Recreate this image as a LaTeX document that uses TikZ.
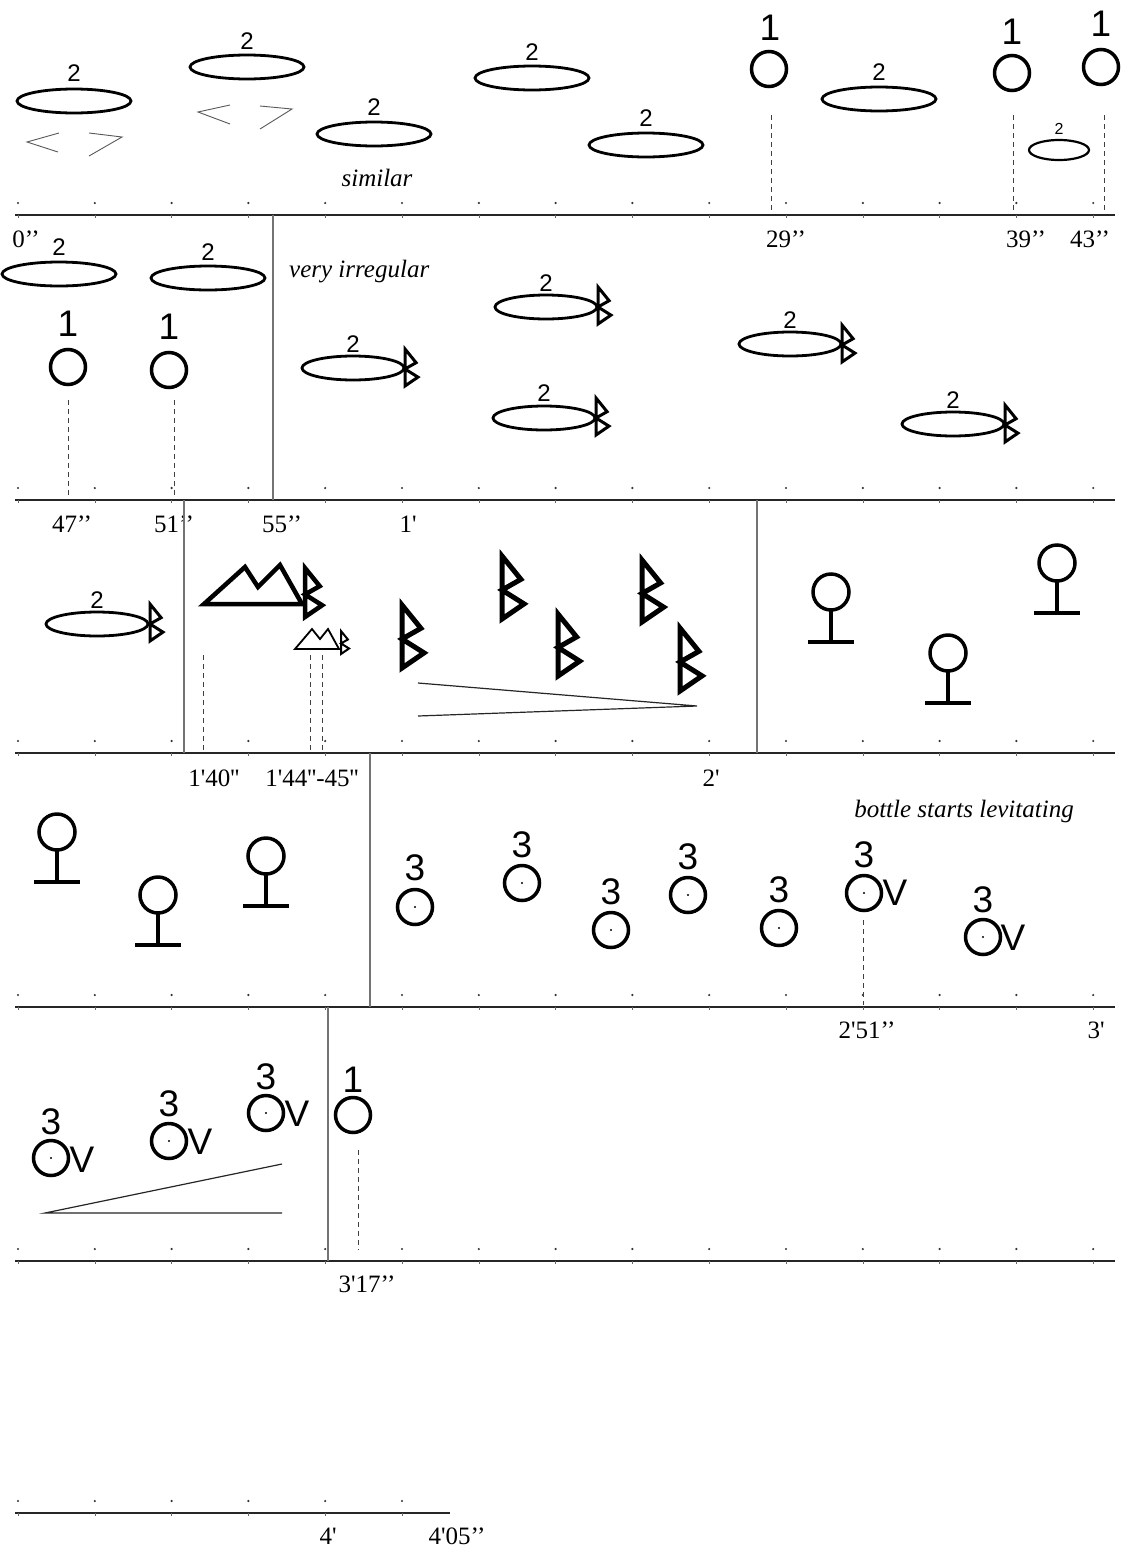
\documentclass[tikz,border=0pt]{standalone}
\usepackage{fontspec}
\newfontfamily\sansf{Liberation Sans}
\newfontfamily\serf{Liberation Serif}
\newcommand{\myrune}[4]{%
  \draw[line width=#4, line join=miter] (#1,#2) -- ({#1+0.30*#3},{#2+0.37*#3}) -- (#1,{#2+0.54*#3}) -- ({#1+0.35*#3},{#2+0.76*#3}) -- (#1,{#2+#3}) -- cycle;}
\newcommand{\mypedestal}[2]{%
  \draw[ring] (#1,#2) circle[radius=18pt];
  \draw[line width=4pt] (#1,{#2+18}) -- (#1,{#2+50});
  \draw[line width=4pt] ({#1-23},{#2+50}) -- ({#1+23},{#2+50});}
\newcommand{\mydotring}[2]{%
  \draw[ring] (#1,#2) circle[radius=17.5pt];
  \fill (#1,#2) circle[radius=1.2pt];}
\newcommand{\mydots}[2]{%
  \foreach \k in {0,...,#2} {\fill[black!80] ({18+76.8*\k},{#1-12}) circle[radius=1.2pt];
    \draw[black!60, line width=0.6pt] ({18+76.8*\k},{#1}) -- ({18+76.8*\k},{#1+2.5});}}
\begin{document}
\begin{tikzpicture}[x=1pt,y=-1pt,
  sysline/.style={line width=1.8pt, black!85},
  sep/.style={line width=1.3pt, black!55},
  dashv/.style={line width=1pt, black!75, dash pattern=on 5pt off 4pt},
  ell/.style={line width=2.8pt},
  ring/.style={line width=3.5pt},
  chev/.style={line width=0.9pt, black!65},
  wedge/.style={line width=1.2pt, black!85},
  num/.style={font=\sansf\fontsize{24}{28}\selectfont, inner sep=0pt},
  big/.style={font=\sansf\fontsize{37}{40}\selectfont, inner sep=0pt},
  smalltwo/.style={font=\sansf\fontsize{16}{18}\selectfont, inner sep=0pt},
  tlabel/.style={font=\serf\fontsize{25}{28}\selectfont, inner sep=0pt},
  ital/.style={font=\serf\itshape\fontsize{25}{28}\selectfont, inner sep=0pt},
]
\useasboundingbox (0,0) rectangle (1126,1553);
\fill[white] (0,0) rectangle (1126,1553);

% ---------- system lines ----------
\foreach \Y in {215,500,753,1007,1261} {\draw[sysline] (15,\Y) -- (1115,\Y); \mydots{\Y}{14}}
\draw[sysline] (15,1513) -- (450,1513);
\mydots{1513}{5}

% ---------- row 1 ----------
\draw[ell] (74,101) ellipse[x radius=57pt, y radius=12pt];
\node[num] (t1) at (74,73) {2};
\draw[chev] (59,133) -- (27,142) -- (58,152);
\draw[chev] (89,133) -- (122,137) -- (89,156);
\draw[ell] (247,67) ellipse[x radius=57pt, y radius=12pt];
\node[num] (t2) at (247,41) {2};
\draw[chev] (230,105) -- (198,112) -- (230,124);
\draw[chev] (260,106) -- (292,109) -- (260,129);
\draw[ell] (374,134) ellipse[x radius=57pt, y radius=12pt];
\node[num] (t3) at (374,107) {2};
\node[ital] (similar) at (377,178) {similar};
\draw[ell] (532,78) ellipse[x radius=57pt, y radius=12pt];
\node[num] (t4) at (532,52) {2};
\draw[ell] (646,145) ellipse[x radius=57pt, y radius=12pt];
\node[num] (t5) at (646,118) {2};
\draw[ring] (769,69) circle[radius=17.5pt];
\node[big] (o1) at (770,28) {1};
\draw[ell] (879,99) ellipse[x radius=57pt, y radius=12pt];
\node[num] (t6) at (879,72) {2};
\draw[ring] (1012,73) circle[radius=17.5pt];
\node[big] (o2) at (1012,32) {1};
\draw[ring] (1101,67) circle[radius=17.5pt];
\node[big] (o3) at (1101,24) {1};
\draw[line width=2.2pt] (1059,150) ellipse[x radius=30pt, y radius=10pt];
\node[smalltwo] (t7) at (1059,129) {2};
\coordinate (d1) at (771,115); \coordinate (d2) at (1013,115); \coordinate (d3) at (1104,115);
\draw[dashv] (d1) -- (771,213);
\draw[dashv] (d2) -- (1013,213);
\draw[dashv] (d3) -- (1104,213);
\node[tlabel] (l0) at (26,239) {0’’};
\node[tlabel] (l29) at (786,239) {29’’};
\node[tlabel] (l39) at (1026,239) {39’’};
\node[tlabel] (l43) at (1090,239) {43’’};

% ---------- row 2 ----------
\draw[sep] (273,215) -- (273,500);
\draw[ell] (59,274) ellipse[x radius=57pt, y radius=12pt];
\node[num] (t8) at (59,247) {2};
\draw[ell] (208,278) ellipse[x radius=57pt, y radius=12pt];
\node[num] (t9) at (208,252) {2};
\draw[ring] (68,367) circle[radius=17.5pt];
\node[big] (o4) at (68,324) {1};
\draw[ring] (169,370) circle[radius=17.5pt];
\node[big] (o5) at (169,327) {1};
\draw[dashv] (68,400) -- (68,498);
\draw[dashv] (174,400) -- (174,498);
\node[ital, anchor=west] (irreg) at (289,272) {very irregular};
% fish
\draw[ell] (353,368) ellipse[x radius=51pt, y radius=12pt];
\node[num] (t10) at (353,344) {2};
\myrune{405}{349}{37}{3pt}
\draw[ell] (546,307) ellipse[x radius=51pt, y radius=12pt];
\node[num] (t11) at (546,283) {2};
\myrune{598}{287}{37}{3pt}
\draw[ell] (544,418) ellipse[x radius=51pt, y radius=12pt];
\node[num] (t12) at (544,393) {2};
\myrune{596}{398}{37}{3pt}
\draw[ell] (790,344) ellipse[x radius=51pt, y radius=12pt];
\node[num] (t13) at (790,320) {2};
\myrune{842}{325}{37}{3pt}
\draw[ell] (953,424) ellipse[x radius=51pt, y radius=12pt];
\node[num] (t14) at (953,400) {2};
\myrune{1005}{405}{37}{3pt}
\node[tlabel] (l47) at (72,524) {47’’};
\node[tlabel] (l51) at (174,524) {51’’};
\node[tlabel] (l55) at (282,524) {55’’};
\node[tlabel] (l1m) at (408,524) {1'};

% ---------- row 3 ----------
\draw[sep] (184,500) -- (184,753);
\draw[sep] (757,500) -- (757,753);
\draw[ell] (97,624) ellipse[x radius=51pt, y radius=12pt];
\node[num] (t15) at (97,600) {2};
\myrune{150}{604}{37}{3pt}
\draw[line width=4.5pt, line join=miter] (204,604) -- (245,567) -- (258,587) -- (280,565) -- (302,604) -- cycle;
\myrune{305}{568}{49}{4.5pt}
\draw[line width=1.8pt, line join=miter] (295,649) -- (312,629) -- (320,639) -- (328,629) -- (339,649) -- cycle;
\myrune{341}{631}{23}{2pt}
\draw[dashv] (203,655) -- (203,753);
\draw[dashv] (310,655) -- (310,753);
\draw[dashv] (322,655) -- (322,750);
\myrune{402}{605}{63}{5pt}
\myrune{502}{556}{63}{5pt}
\myrune{558}{614}{62}{5pt}
\myrune{642}{560}{62}{5pt}
\myrune{680}{628}{63}{5pt}
\coordinate (w1) at (418,683); \coordinate (w2) at (697,706); \coordinate (w3) at (418,716);
\draw[wedge] (w1) -- (w2) -- (w3);
\mypedestal{831}{592}
\mypedestal{948}{653}
\mypedestal{1057}{563}
\node[tlabel] (l140) at (214,778) {1'40''};
\node[tlabel] (l144) at (312,778) {1'44''-45''};
\node[tlabel] (l2m) at (711,778) {2'};

% ---------- row 4 ----------
\draw[sep] (370,753) -- (370,1007);
\mypedestal{57}{832}
\mypedestal{158}{895}
\mypedestal{266}{856}
\node[ital] (bottle) at (964,811) {bottle starts levitating};
\mydotring{415}{907} \node[big] (c1) at (415,868) {3};
\mydotring{522}{883} \node[big] (c2) at (522,845) {3};
\mydotring{611}{930} \node[big] (c3) at (611,892) {3};
\mydotring{688}{895} \node[big] (c4) at (688,857) {3};
\mydotring{779}{928} \node[big] (c5) at (779,890) {3};
\mydotring{864}{893} \node[big] (c6) at (864,855) {3};
\node[big] (v6) at (895,893) {V};
\mydotring{983}{937} \node[big] (c7) at (983,900) {3};
\node[big] (v7) at (1013,938) {V};
\draw[dashv] (863,920) -- (863,1005);
\node[tlabel] (l251) at (867,1030) {2'51’’};
\node[tlabel] (l3m) at (1096,1030) {3'};

% ---------- row 5 ----------
\draw[sep] (328,1007) -- (328,1261);
\mydotring{51}{1158} \node[big] (c8) at (51,1122) {3};
\node[big] (v8) at (82,1160) {V};
\mydotring{169}{1141} \node[big] (c9) at (169,1104) {3};
\node[big] (v9) at (200,1142) {V};
\mydotring{266}{1113} \node[big] (c10) at (266,1077) {3};
\node[big] (v10) at (297,1114) {V};
\coordinate (u1) at (282,1164); \coordinate (u2) at (45,1213); \coordinate (u3) at (282,1213);
\draw[wedge] (u1) -- (u2) -- (u3);
\draw[ring] (353,1115) circle[radius=17.5pt];
\node[big] (o6) at (353,1080) {1};
\draw[dashv] (358,1150) -- (358,1250);
\node[tlabel] (l317) at (367,1284) {3'17’’};

% ---------- last ----------
\node[tlabel] (l4m) at (328,1536) {4'};
\node[tlabel] (l405) at (457,1536) {4'05’’};
\end{tikzpicture}
\end{document}
